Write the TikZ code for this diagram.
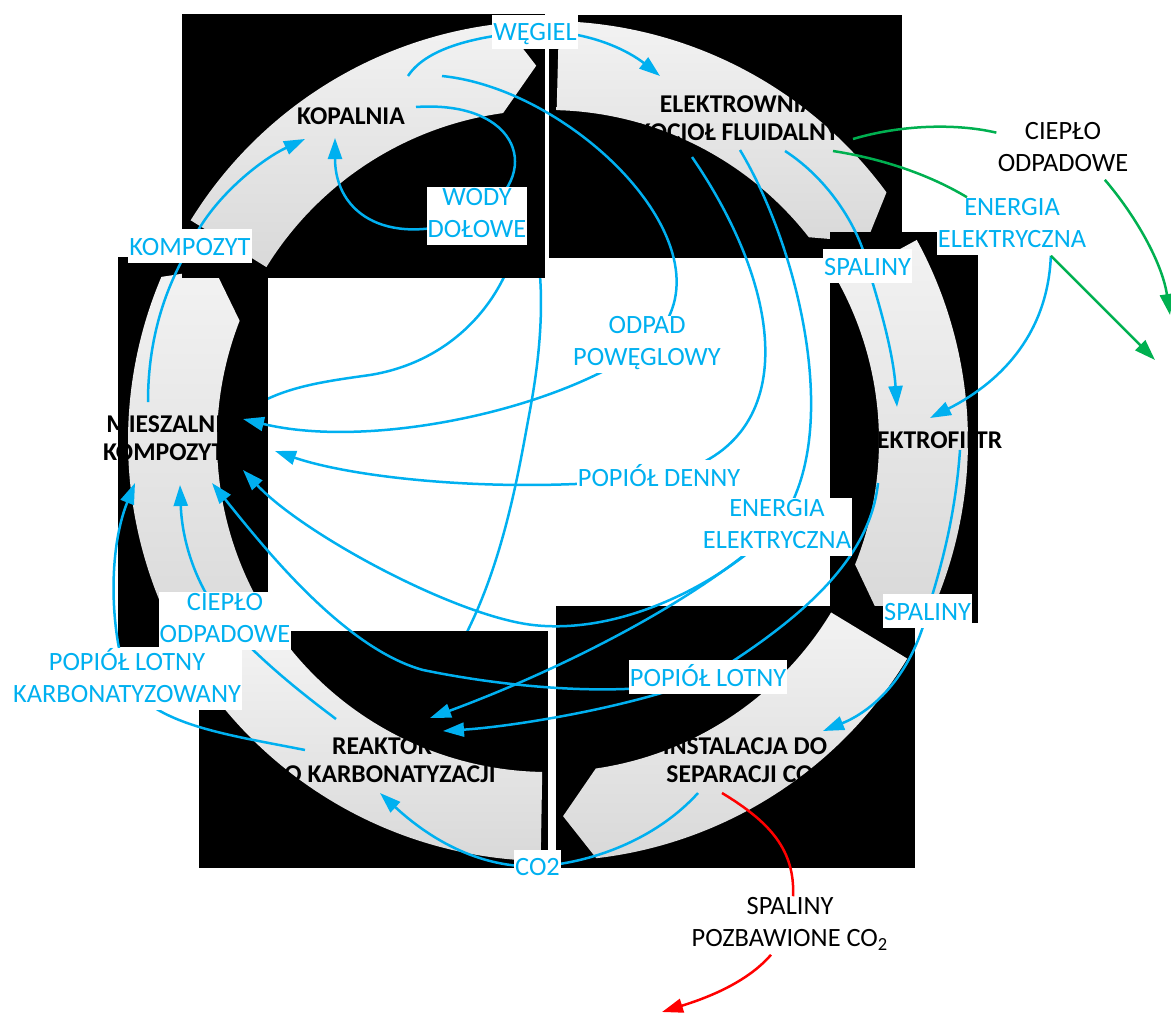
\documentclass[tikz,border=0pt]{standalone}
\usepackage{fontspec}
\setmainfont{Carlito}
\usetikzlibrary{arrows.meta,calc}
\definecolor{flowblue}{HTML}{00B0F0}
\definecolor{flowgreen}{HTML}{00B050}
\pgfdeclarelayer{under}
\pgfdeclarelayer{rings}
\pgfdeclarelayer{labels}
\pgfsetlayers{under,rings,main,labels}
\newcommand\stagefont{\bfseries\fontsize{12.8}{14}\selectfont}
\newcommand\flowfont{\fontsize{13.2}{15.8}\selectfont}
\newcommand\flowstrut{\rule[-3.3pt]{0pt}{15.8pt}}

\begin{document}
\begin{tikzpicture}[x=0.5pt,y=-0.5pt,>={Triangle[length=10.5pt,width=7pt]},
    stage/.style={font=\stagefont,align=center,inner sep=0pt},
    flowlabel/.style={font=\flowfont,text=flowblue,fill=white,align=center,inner xsep=0.5pt,inner ysep=0.6pt,
      execute at begin node=\flowstrut,execute at end node=\flowstrut},
    outnote/.style={flowlabel,text=black},
    blue link/.style={draw=flowblue,line width=1.25pt},
    green link/.style={draw=flowgreen,line width=1.25pt},
    red link/.style={draw=red,line width=1.25pt},
    ringseg/.style={top color=black!5,bottom color=black!15}]

  \useasboundingbox (0,0) rectangle (1171,1012);
  \coordinate (hub) at (548,441);

  \node[stage] (kop) at (351,116) {KOPALNIA};
  \node[stage] (elk) at (738,118.5) {ELEKTROWNIA\\KOCIOŁ FLUIDALNY};
  \node[stage] (fil) at (928,440.5) {ELEKTROFILTR};
  \node[stage] (ins) at (745,761.5) {INSTALACJA DO\\SEPARACJI CO\textsubscript{2}};
  \node[stage] (rea) at (382,760.5) {REAKTOR\\DO KARBONATYZACJI};
  \node[stage] (mie) at (172,438) {MIESZALNIA\\KOMPOZYTU};

  \begin{pgfonlayer}{labels}
    \node[flowlabel] (wegiel) at (535,31.5) {WĘGIEL};
    \node[flowlabel] (wody) at (477,216) {WODY\\DOŁOWE};
    \node[flowlabel] (komp) at (190,246) {KOMPOZYT};
    \node[flowlabel] (spal1) at (867.5,266) {SPALINY};
    \node[flowlabel] (ener1) at (1012,226.5) {ENERGIA\\ELEKTRYCZNA};
    \node[outnote] (ciep1) at (1063,150.5) {CIEPŁO\\ODPADOWE};
    \node[flowlabel] (odpad) at (647,344.5) {ODPAD\\POWĘGLOWY};
    \node[flowlabel] (popden) at (659,477) {POPIÓŁ DENNY};
    \node[flowlabel] (ener2) at (777,527) {ENERGIA\\ELEKTRYCZNA};
    \node[flowlabel] (spal2) at (927.5,611) {SPALINY};
    \node[flowlabel] (poplot) at (708,677) {POPIÓŁ LOTNY};
    \node[flowlabel] (co2) at (537.5,866.5) {CO2};
    \node[flowlabel] (ciep2) at (225,621) {CIEPŁO\\ODPADOWE};
    \node[flowlabel] (popkarb) at (127,679) {POPIÓŁ LOTNY\\KARBONATYZOWANY};
    \node[outnote] (spal3) at (790,925.5) {SPALINY\\POZBAWIONE CO\textsubscript{2}};
  \end{pgfonlayer}

  \begin{pgfonlayer}{rings}
    \foreach \bxa/\bya/\bxb/\byb/\tail in {118/257/268/647/209.2, 199/631/548/868/269,
        182/14/545/278/148.3, 549/15/902/258/88.5, 830/232/978/623/28.6, 556/606/915/868/328.8}{
      \fill (\bxa,\bya) rectangle (\bxb,\byb);
      \pgfmathsetmacro\angP{\tail-56.5}
      \pgfmathsetmacro\angO{\angP+4.3}
      \pgfmathsetmacro\angI{\angP+6}
      \shade[ringseg] ($(hub)+(\tail:210pt)$) arc[start angle=\tail,end angle=\angO,radius=210pt]
        -- ($(hub)+(\angP:187.75pt)$) -- ($(hub)+(\angI:165.5pt)$)
        arc[start angle=\angI,end angle=\tail,radius=165.5pt] -- cycle;
    }
  \end{pgfonlayer}

  \coordinate (kopW) at (408,76);
  \coordinate (kopE) at (416,107);
  \coordinate (kopS) at (335,138);
  \coordinate (kopL) at (305,139);
  \coordinate (kopR) at (442,76);
  \coordinate (elkW) at (660,76);
  \coordinate (elk1) at (692,157);
  \coordinate (elk2) at (740,150);
  \coordinate (elk3) at (785,151);
  \coordinate (elk4) at (833,151);
  \coordinate (elk5) at (853,139);
  \coordinate (filN) at (897,407);
  \coordinate (filE) at (930,418);
  \coordinate (filA) at (878,483);
  \coordinate (filB) at (960,450);
  \coordinate (insN) at (823,731);
  \coordinate (insA) at (698,793);
  \coordinate (insB) at (722,793);
  \coordinate (reaA) at (430,718);
  \coordinate (reaB) at (443,731);
  \coordinate (reaC) at (380,793);
  \coordinate (reaD) at (336,719);
  \coordinate (reaE) at (305,750);
  \coordinate (mieN) at (148,402);
  \coordinate (mie1) at (243,419);
  \coordinate (mie2) at (275,451);
  \coordinate (mie3) at (243,470);
  \coordinate (mie4) at (212,483);
  \coordinate (mie5) at (180,485);
  \coordinate (mie6) at (135,483);
  \coordinate (outE) at (1155,360);
  \coordinate (outH) at (1170,315);
  \coordinate (outS) at (662,1012);

  \begin{pgfonlayer}{under}
    \draw[blue link] (wody.-37) .. controls (500,305) and (450,362) .. (370,375)
      .. controls (320,382) and (275,388) .. (mie.north east);
    \draw[blue link] (wody.east) .. controls (545,260) and (545,330) .. (530,410)
      .. controls (515,490) and (490,660) .. (rea.north);
  \end{pgfonlayer}

  \draw[blue link,->] (kopW) .. controls (425,50) and (470,36) .. (wegiel.center)
    .. controls (590,30) and (630,52) .. (elkW);
  \draw[blue link,->] (kopE) .. controls (520,100) and (545,175) .. (wody.center)
    .. controls (390,250) and (335,215) .. (kopS);
  \draw[blue link,->] (mieN) .. controls (148,330) and (170,280) .. (komp.center)
    .. controls (210,200) and (260,160) .. (kopL);
  \draw[blue link,->] (kopR) .. controls (580,90) and (745,260) .. (odpad.center)
    .. controls (560,410) and (370,450) .. (mie1);
  \draw[blue link,->] (elk1) .. controls (790,300) and (800,450) .. (popden.center)
    .. controls (520,495) and (360,480) .. (mie2);
  \draw[blue link] (elk2) .. controls (800,250) and (845,440) .. (ener2.center);
  \draw[blue link,->] (ener2.center) .. controls (720,585) and (620,635) .. (533,625)
    .. controls (455,616) and (303,534) .. (mie3);
  \draw[blue link,->] (ener2.center) .. controls (700,600) and (560,670) .. (reaA);
  \draw[blue link,->] (elk3) .. controls (830,180) and (860,230) .. (spal1.center)
    .. controls (878,300) and (893,350) .. (filN);
  \draw[blue link,->] (ener1.-37) .. controls (1048,330) and (1005,380) .. (filE);
  \draw[blue link] (filA) .. controls (870,560) and (800,620) .. (poplot.center);
  \draw[blue link,->] (poplot.center) .. controls (640,705) and (520,726) .. (reaB);
  \draw[blue link,->] (poplot.center) .. controls (640,698) and (520,690) .. (423,670)
    .. controls (343,648) and (262,545) .. (mie4);
  \draw[blue link,->] (filB) .. controls (955,520) and (940,570) .. (spal2.center)
    .. controls (910,680) and (870,712) .. (insN);
  \draw[blue link,->] (insA) .. controls (660,835) and (600,862) .. (co2.center)
    .. controls (470,868) and (420,830) .. (reaC);
  \draw[blue link,->] (reaD) .. controls (300,692) and (260,660) .. (ciep2.center)
    .. controls (195,585) and (182,540) .. (mie5);
  \draw[blue link,->] (reaE) .. controls (230,735) and (150,725) .. (popkarb.center)
    .. controls (110,630) and (108,550) .. (mie6);

  \draw[green link] (elk4) .. controls (890,160) and (935,178) .. (ener1.147);
  \draw[green link,->] (ener1.-37) -- (outE);
  \draw[green link] (elk5) .. controls (900,125) and (955,123) .. (ciep1.165);
  \draw[green link,->] (ciep1.-35) .. controls (1135,215) and (1162,262) .. (outH);

  \draw[red link] (insB) .. controls (770,822) and (795,850) .. (spal3.84);
  \draw[red link,->] (spal3.-123) .. controls (745,985) and (700,1000) .. (outS);
\end{tikzpicture}
\end{document}
